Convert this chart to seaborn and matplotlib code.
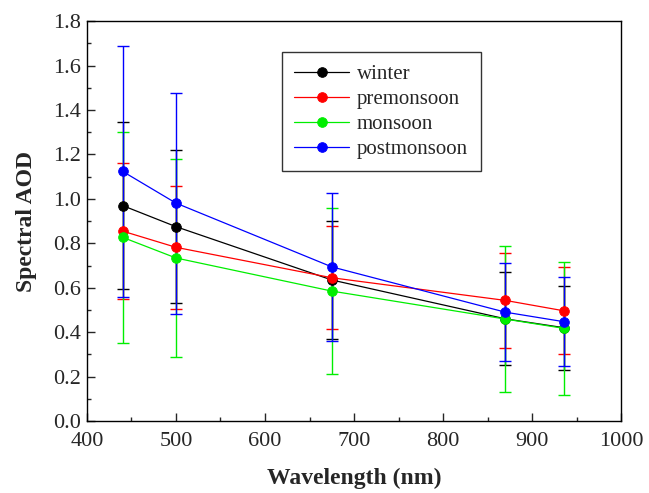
import matplotlib
matplotlib.use("Agg")
import matplotlib.pyplot as plt
import seaborn as sns
import pandas as pd
import numpy as np
from matplotlib.ticker import MultipleLocator

wavelength = [440, 500, 675, 870, 936]
seasons = ["winter", "premonsoon", "monsoon", "postmonsoon"]
winter = [0.97, 0.875, 0.635, 0.46, 0.42]
premonsoon = [0.855, 0.782, 0.645, 0.543, 0.496]
monsoon = [0.827, 0.734, 0.585, 0.459, 0.417]
postmonsoon = [1.124, 0.981, 0.694, 0.49, 0.447]
winter_err = [0.375, 0.343, 0.265, 0.21, 0.19]
premonsoon_err = [0.305, 0.278, 0.232, 0.215, 0.196]
monsoon_err = [0.474, 0.447, 0.375, 0.33, 0.30]
postmonsoon_err = [0.565, 0.498, 0.334, 0.22, 0.20]
colors = ["#000000", "#ff0000", "#00ee00", "#0000ff"]

values = [winter, premonsoon, monsoon, postmonsoon]
errs = [winter_err, premonsoon_err, monsoon_err, postmonsoon_err]

rows = []
for s, v, e in zip(seasons, values, errs):
    for w, y, err in zip(wavelength, v, e):
        rows.append({"Wavelength": w, "AOD": y, "err": err, "season": s})
df = pd.DataFrame(rows)

sns.set_style("ticks")
plt.rcParams["font.family"] = ["Liberation Serif", "DejaVu Serif"]

fig = plt.figure(figsize=(6.49, 4.93), dpi=100)
ax = fig.add_axes([0.134, 0.146, 0.823, 0.811])

for s, c in zip(seasons, colors):
    d = df[df["season"] == s]
    ax.errorbar(d["Wavelength"], d["AOD"], yerr=d["err"], fmt="none",
                ecolor=c, elinewidth=1.0, capsize=4, capthick=1.0, zorder=2)

sns.lineplot(data=df, x="Wavelength", y="AOD", hue="season", hue_order=seasons,
             palette=colors, marker="o", markersize=7, linewidth=0.9,
             ax=ax, zorder=3, legend=True)
for line in ax.lines:
    if line.get_marker() == "o":
        line.set_markeredgecolor(line.get_color())
        line.set_markeredgewidth(0.6)

ax.set_xlim(400, 1000)
ax.set_ylim(0.0, 1.8)
ax.xaxis.set_major_locator(MultipleLocator(100))
ax.xaxis.set_minor_locator(MultipleLocator(50))
ax.yaxis.set_major_locator(MultipleLocator(0.2))
ax.yaxis.set_minor_locator(MultipleLocator(0.1))
ax.yaxis.set_major_formatter(matplotlib.ticker.FormatStrFormatter("%.1f"))
ax.tick_params(which="major", direction="in", length=6, width=1, labelsize=16,
               top=False, right=False)
ax.tick_params(axis="x", which="major", pad=8)
ax.tick_params(axis="y", which="major", pad=4)
ax.tick_params(which="minor", direction="in", length=3, width=1,
               top=False, right=False)
for sp in ax.spines.values():
    sp.set_visible(True)
    sp.set_linewidth(1.0)
    sp.set_color("black")

ax.set_xlabel("Wavelength (nm)", fontsize=17, fontweight="bold", labelpad=12)
ax.set_ylabel("Spectral AOD", fontsize=17, fontweight="bold", labelpad=12)

handles, labels = ax.get_legend_handles_labels()
leg = ax.legend(handles, labels, loc="upper left", bbox_to_anchor=(0.365, 0.922),
                fontsize=15, frameon=True, fancybox=False, edgecolor="black",
                handlelength=2.6, borderpad=0.6, labelspacing=0.25, handletextpad=0.4,
                borderaxespad=0)
leg.get_frame().set_linewidth(1.0)
for h, c in zip(leg.legend_handles, colors):
    h.set_markeredgecolor(c)
    h.set_markeredgewidth(0.6)

fig.savefig("out.png", dpi=100)
